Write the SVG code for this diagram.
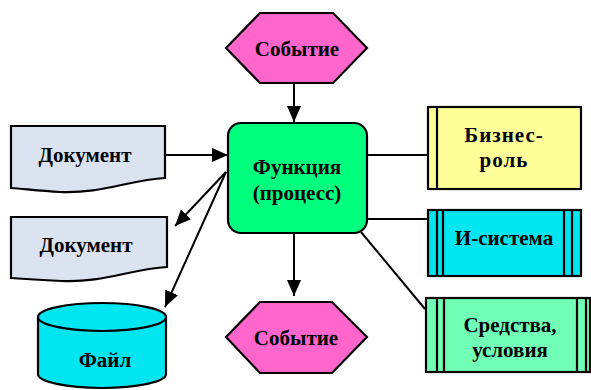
<svg xmlns="http://www.w3.org/2000/svg" width="591" height="390" viewBox="0 0 591 390">
<defs>
<marker id="arrow" viewBox="0 0 16 14" refX="16" refY="7" markerWidth="16" markerHeight="14" orient="auto" markerUnits="userSpaceOnUse">
<path d="M0,0 L16,7 L0,14 z" fill="#000"/>
</marker>
</defs>
<style>
.s{stroke:#000;stroke-width:2.2;stroke-linejoin:miter}
.t{font-family:"Liberation Serif","Times New Roman",serif;font-weight:bold;font-size:21px;fill:#000;text-anchor:middle}
.c{stroke:#000;stroke-width:2;fill:none}
.ev{fill:#FF66CC}
.doc{fill:#DCE3F0}
</style>
<g id="connectors">
<line class="c" x1="294" y1="83" x2="294" y2="122" marker-end="url(#arrow)"/>
<line class="c" x1="294" y1="233" x2="294" y2="296" marker-end="url(#arrow)"/>
<line class="c" x1="165" y1="155" x2="228" y2="155" marker-end="url(#arrow)"/>
<line class="c" x1="226" y1="172" x2="175" y2="226" marker-end="url(#arrow)"/>
<line class="c" x1="226" y1="172" x2="165" y2="307" marker-end="url(#arrow)"/>
<line class="c" x1="367" y1="155" x2="428" y2="155"/>
<line class="c" x1="367" y1="219" x2="428" y2="219"/>
<line class="c" x1="361" y1="232" x2="425" y2="309"/>
</g>
<g id="event-top">
<polygon class="s ev" points="226,48 260,13 333,13 367,48 333,83 260,83"/>
<text class="t" x="297" y="56">Событие</text>
</g>
<g id="function">
<rect class="s" x="228" y="123" width="139" height="110" rx="13" fill="#00FF7F"/>
<text class="t" x="297" y="174">Функция</text>
<text class="t" x="297" y="200">(процесс)</text>
</g>
<g id="event-bottom">
<polygon class="s ev" points="226,337 260,302 332,302 367,337 332,373 260,373"/>
<text class="t" x="296" y="345">Событие</text>
</g>
<g id="doc-in">
<path class="s doc" d="M11,126 L165,126 L165,178 C130,180 100,194 60,192 C40,191 25,189 11,188 Z"/>
<text class="t" x="85" y="162">Документ</text>
</g>
<g id="doc-out">
<path class="s doc" d="M11,217 L167,217 L167,267 C132,269 102,283 62,281 C42,280 25,279 11,278 Z"/>
<text class="t" x="86" y="252">Документ</text>
</g>
<g id="file">
<path class="s" d="M38,317 L38,374 A64,14 0 0 0 166,374 L166,317" fill="#00E5F0"/>
<ellipse class="s" cx="102" cy="317" rx="64" ry="14" fill="#00E5F0"/>
<text class="t" x="105" y="367">Файл</text>
</g>
<g id="business-role">
<rect class="s" x="428" y="107" width="153" height="82" fill="#FFFF99"/>
<line class="s" x1="437" y1="107" x2="437" y2="189"/>
<text class="t" x="504" y="142" letter-spacing="1">Бизнес-</text>
<text class="t" x="504" y="167" letter-spacing="1">роль</text>
</g>
<g id="is-system">
<rect class="s" x="428" y="210" width="153" height="66" fill="#00E5F0"/>
<line class="s" x1="437" y1="210" x2="437" y2="276"/>
<line class="s" x1="443" y1="210" x2="443" y2="276"/>
<line class="s" x1="564" y1="210" x2="564" y2="276"/>
<line class="s" x1="572" y1="210" x2="572" y2="276"/>
<text class="t" x="504" y="245">И-система</text>
</g>
<g id="means">
<rect class="s" x="426" y="298" width="164" height="74" fill="#70FFB4"/>
<line class="s" x1="437" y1="298" x2="437" y2="372"/>
<line class="s" x1="444" y1="298" x2="444" y2="372"/>
<line class="s" x1="577" y1="298" x2="577" y2="372"/>
<line class="s" x1="586" y1="298" x2="586" y2="372"/>
<text class="t" x="510" y="332">Средства,</text>
<text class="t" x="510" y="357">условия</text>
</g>
</svg>
